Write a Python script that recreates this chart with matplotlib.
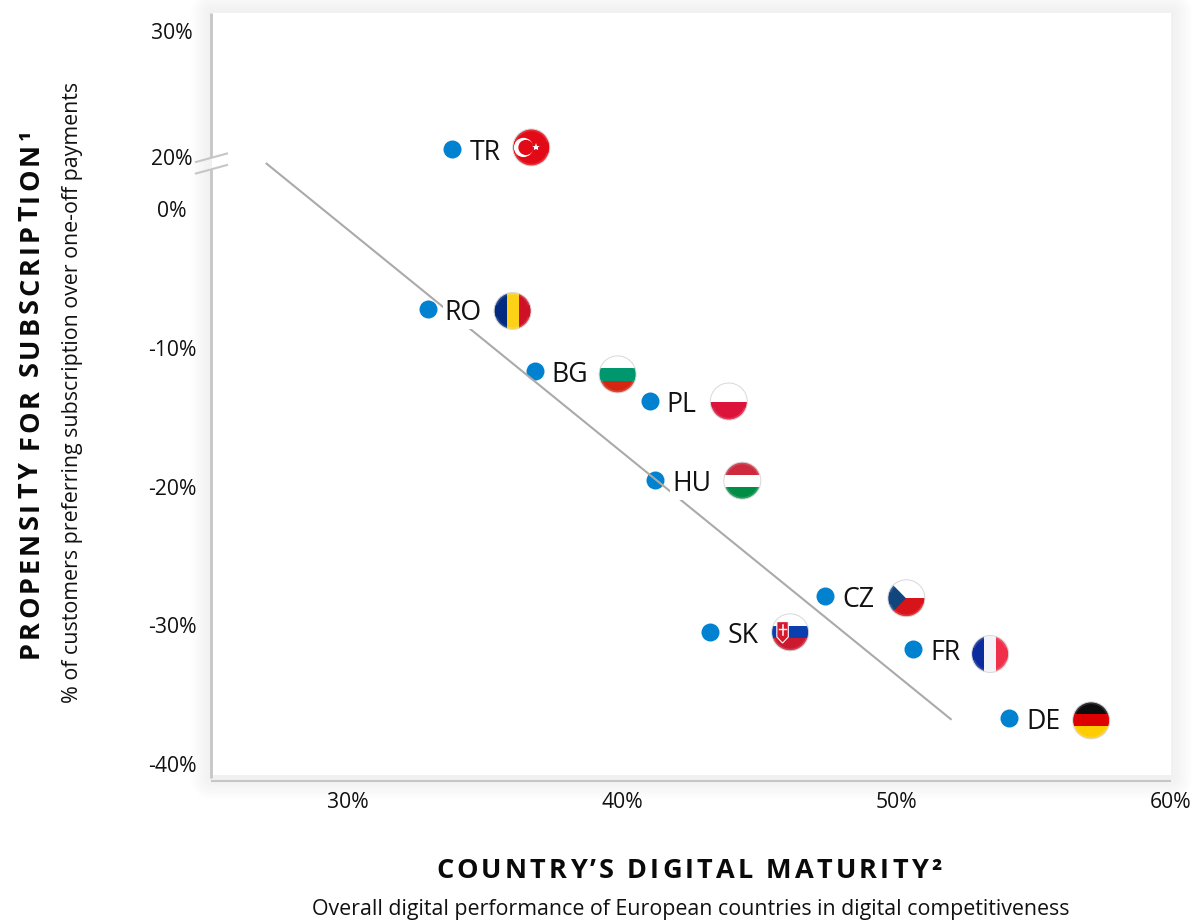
import numpy as np
import matplotlib
matplotlib.use('Agg')
import matplotlib.pyplot as plt
from matplotlib.patches import Circle, Rectangle, Polygon, Wedge
from matplotlib.font_manager import FontProperties, findfont, get_font
from matplotlib.ft2font import LoadFlags

plt.rcParams['font.family'] = ['Open Sans', 'DejaVu Sans']

W, H = 1199, 923

countries = ['TR', 'RO', 'BG', 'PL', 'HU', 'CZ', 'SK', 'FR', 'DE']
maturity = [33.8, 32.9, 36.8, 41.0, 41.2, 47.4, 43.2, 50.6, 54.1]
propensity = [20.6, -7.2, -11.7, -13.8, -19.5, -27.9, -30.5, -31.7, -36.7]
trend_x = [27.0, 52.0]
trend_y = [17.7, -36.8]
x_ticks = [30, 40, 50, 60]
y_ticks = [-40, -30, -20, -10, 0, 20, 30]

# flag centre relative to the dot, in pixels
flag_offset = {
    'TR': (79, -2), 'RO': (85, 2), 'BG': (83, 3), 'PL': (79, 1), 'HU': (87, 1),
    'CZ': (81, 2), 'SK': (80, 0), 'FR': (77, 5), 'DE': (82, 2),
}

# broken y axis: value -> position on the page
scale_val = [-41.0, 0.0, 20.0, 31.43]
scale_pos = [-778.0, -209.0, -157.0, -13.0]


def forward(v):
    return np.interp(v, scale_val, scale_pos)


def inverse(p):
    return np.interp(p, scale_pos, scale_val)


def spaced_text(fig, ov, x, y, s, size, spacing, rotation=0):
    # text with letter spacing, starts at x, y (pixels)
    fp = FontProperties(family='Open Sans', weight='bold', size=size)
    font = get_font(findfont(fp))
    font.set_size(size, 100)
    pos = 0.0
    for ch in s:
        if rotation == 90:
            ov.text(x, y - pos, ch, fontproperties=fp, rotation=90, color='#0a0a0a',
                    ha='left', va='baseline', rotation_mode='anchor')
        else:
            ov.text(x + pos, y, ch, fontproperties=fp, color='#0a0a0a',
                    ha='left', va='baseline')
        glyph = font.load_char(ord(ch), flags=LoadFlags.NO_HINTING)
        pos += glyph.linearHoriAdvance / 65536 + spacing


def draw_flag(ov, code, cx, cy, r=18.5):
    clip = Circle((cx, cy), r, transform=ov.transData)
    parts = []

    def rect(x0, y0, x1, y1, color):
        parts.append(Rectangle((cx + x0 * r, cy + y0 * r), (x1 - x0) * r, (y1 - y0) * r,
                               facecolor=color, edgecolor='none'))

    if code == 'TR':
        rect(-1, -1, 1, 1, '#e30a17')
        parts.append(Circle((cx - 0.42 * r, cy), 0.52 * r, facecolor='white', edgecolor='none'))
        parts.append(Circle((cx - 0.29 * r, cy), 0.41 * r, facecolor='#e30a17', edgecolor='none'))
    elif code == 'RO':
        rect(-1, -1, -0.33, 1, '#002b7f')
        rect(-0.33, -1, 0.33, 1, '#fcd116')
        rect(0.33, -1, 1, 1, '#ce1126')
    elif code == 'BG':
        rect(-1, -1, 1, -0.33, '#ffffff')
        rect(-1, -0.33, 1, 0.33, '#00966e')
        rect(-1, 0.33, 1, 1, '#d62612')
    elif code == 'PL':
        rect(-1, -1, 1, 0, '#ffffff')
        rect(-1, 0, 1, 1, '#dc143c')
    elif code == 'HU':
        rect(-1, -1, 1, -0.33, '#cd2a3e')
        rect(-1, -0.33, 1, 0.33, '#ffffff')
        rect(-1, 0.33, 1, 1, '#008d46')
    elif code == 'CZ':
        rect(-1, -1, 1, 0, '#ffffff')
        rect(-1, 0, 1, 1, '#d7141a')
        parts.append(Polygon([(cx - r, cy - r), (cx - 0.02 * r, cy), (cx - r, cy + r)],
                             facecolor='#11457e', edgecolor='none'))
    elif code == 'SK':
        rect(-1, -1, 1, -0.33, '#ffffff')
        rect(-1, -0.33, 1, 0.33, '#0b3fae')
        rect(-1, 0.33, 1, 1, '#cb1a30')
        parts.append(Polygon([(cx - 0.72 * r, cy - 0.58 * r), (cx - 0.1 * r, cy - 0.58 * r),
                              (cx - 0.1 * r, cy + 0.25 * r), (cx - 0.41 * r, cy + 0.58 * r),
                              (cx - 0.72 * r, cy + 0.25 * r)],
                             facecolor='#d8182c', edgecolor='white', linewidth=0.8))
    elif code == 'FR':
        rect(-1, -1, -0.33, 1, '#0a2a9e')
        rect(-0.33, -1, 0.33, 1, '#f4f4f8')
        rect(0.33, -1, 1, 1, '#f0304a')
    elif code == 'DE':
        rect(-1, -1, 1, -0.33, '#0c0c0c')
        rect(-1, -0.33, 1, 0.33, '#dd0000')
        rect(-1, 0.33, 1, 1, '#ffcc00')

    for p in parts:
        ov.add_patch(p)
        p.set_clip_path(clip)

    # little shine along the rim
    for t1, t2 in [(20, 160), (200, 340)]:
        w = Wedge((cx, cy), r, t1, t2, width=0.12 * r, facecolor='white', edgecolor='none', alpha=0.14)
        ov.add_patch(w)
    ov.add_patch(Circle((cx, cy), r, facecolor='none', edgecolor='#d8d8d8', linewidth=0.7))

    if code == 'TR':
        ov.plot([cx + 0.25 * r], [cy], marker='*', color='white', markersize=6, markeredgewidth=0)
    if code == 'SK':
        ov.plot([cx - 0.41 * r] * 2, [cy - 0.42 * r, cy + 0.12 * r], color='white', lw=1.1)
        ov.plot([cx - 0.58 * r, cx - 0.24 * r], [cy - 0.2 * r] * 2, color='white', lw=1.0)


fig = plt.figure(figsize=(W / 100, H / 100), dpi=100, facecolor='white')

# soft shadow round the plot area
bg = fig.add_axes([0, 0, 1, 1], zorder=-1)
bg.set_xlim(0, W)
bg.set_ylim(H, 0)
bg.axis('off')
xx, yy = np.meshgrid(np.arange(W) + 0.5, np.arange(H) + 0.5)
dx = np.maximum(np.maximum(212 - xx, xx - 1171), 0)
dy = np.maximum(np.maximum(13 - yy, yy - 778), 0)
dist = np.hypot(dx, dy)
shade = 255 - 15 * np.clip(1 - dist / 22, 0, 1) ** 0.8
bg.imshow(shade, cmap='gray', vmin=0, vmax=255, extent=(0, W, H, 0), aspect='auto', interpolation='bilinear')

ax = fig.add_axes([212 / W, 1 - 775 / H, (1171 - 212) / W, (775 - 13) / H], zorder=1)
ax.set_yscale('function', functions=(forward, inverse))
ax.set_xlim(25.04, 60)
ax.set_ylim(-40.78, 31.43)
ax.set_facecolor('white')
for s in ax.spines.values():
    s.set_visible(False)

ax.set_xticks(x_ticks)
ax.set_xticklabels(['%d%%' % v for v in x_ticks], fontsize=15.2, color='#111111')
ax.set_yticks(y_ticks)
ax.set_yticklabels(['%d%%' % v for v in y_ticks], fontsize=15.2, color='#111111')
ax.minorticks_off()
ax.tick_params(axis='x', length=0, pad=12.5)
ax.tick_params(axis='y', length=0, pad=28.8)
for lab in ax.get_yticklabels():
    lab.set_ha('center')

ax.scatter(maturity, propensity, s=168, color='#0082d1', linewidths=0, zorder=2)
ax.plot(trend_x, trend_y, color='#aaaaaa', lw=1.5, zorder=3, solid_capstyle='butt')

for name, xv, yv in zip(countries, maturity, propensity):
    ax.annotate(name, (xv, yv), xytext=(17, -4), textcoords='offset pixels',
                fontsize=19.2, color='#111111', ha='left', va='center', zorder=4,
                bbox=dict(boxstyle='square,pad=0.07', facecolor='white', edgecolor='none'))

# overlay in pixels for flags, axis lines and titles
ov = fig.add_axes([0, 0, 1, 1], zorder=2)
ov.set_xlim(0, W)
ov.set_ylim(H, 0)
ov.axis('off')
ov.patch.set_alpha(0)

fig.canvas.draw()
for name, xv, yv in zip(countries, maturity, propensity):
    px, py = ax.transData.transform((xv, yv))
    ox, oy = flag_offset[name]
    draw_flag(ov, name, px + ox, H - py + oy)

axis_col = '#c6c6c6'
ov.plot([211, 211], [13, 157], color=axis_col, lw=2, solid_capstyle='butt')
ov.plot([211, 211], [169, 778], color=axis_col, lw=2, solid_capstyle='butt')
ov.plot([196, 227], [162, 153.5], color=axis_col, lw=1.5)
ov.plot([196, 227], [173.5, 165], color=axis_col, lw=1.5)
ov.plot([211, 1171], [781, 781], color=axis_col, lw=1.5, solid_capstyle='butt')

spaced_text(fig, ov, 436, 878, 'COUNTRY\u2019S DIGITAL MATURITY\u00b2', 19.5, 3.1)
ov.text(691, 910, 'Overall digital performance of European countries in digital competitiveness',
        fontsize=15.43, color='#111111', ha='center', va='center')
spaced_text(fig, ov, 38, 658, 'PROPENSITY FOR SUBSCRIPTION\u00b9', 19.5, 3.1, rotation=90)
ov.text(73, 392.5, '% of customers preferring subscription over one-off payments',
        fontsize=15.43, color='#111111', ha='center', va='center', rotation=90)

fig.savefig('out.png', dpi=100)
